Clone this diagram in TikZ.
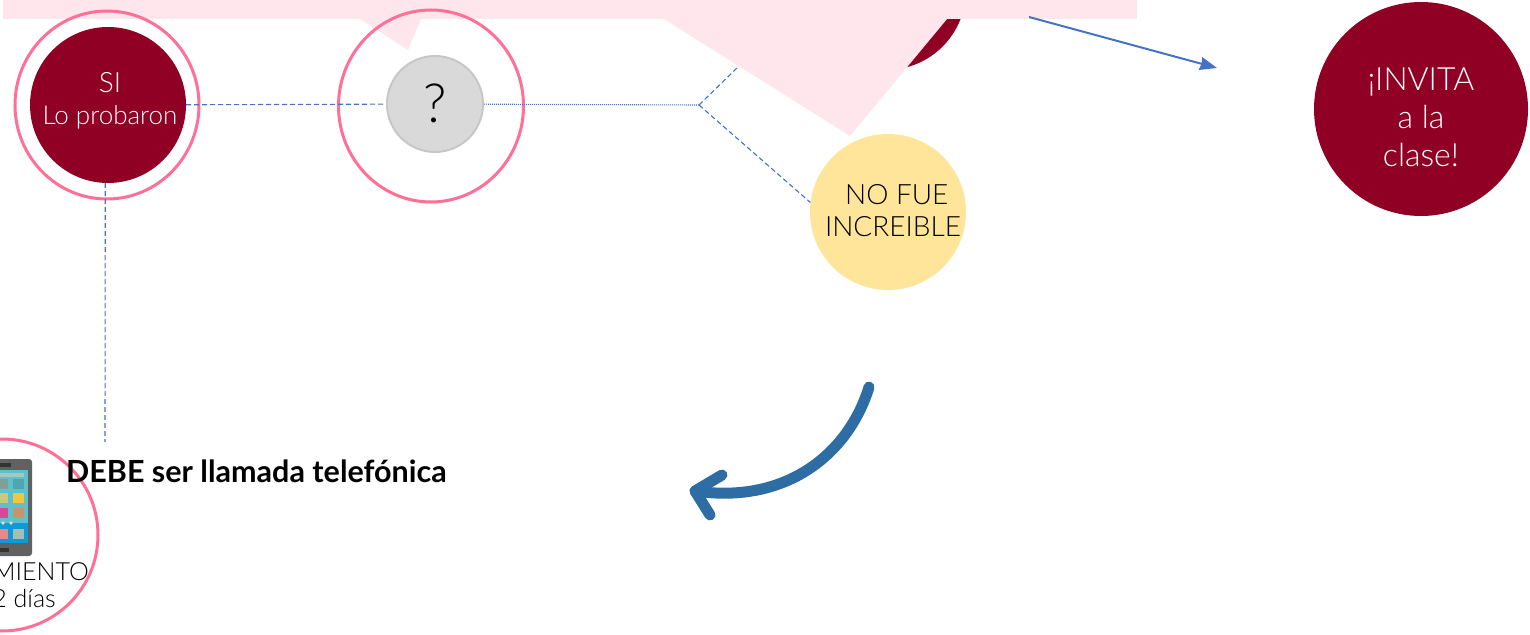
\documentclass[tikz,border=0pt]{standalone}
\usepackage{fontspec}
\usetikzlibrary{arrows.meta}
\setmainfont{Lato}
\newfontfamily\fina{Lato Light}
\definecolor{vino}{HTML}{900024}
\definecolor{rosa}{HTML}{FF6F96}
\definecolor{rosaclaro}{HTML}{FFE6EC}
\definecolor{crema}{HTML}{FFE599}
\definecolor{linea}{HTML}{4472C4}
\definecolor{flecha}{HTML}{2E6DA4}
\begin{document}
\begin{tikzpicture}[x=1pt, y=-1pt,
  every node/.style={inner sep=0pt, align=center},
  bola/.style={circle, minimum size=#1, text=white},
  anillo/.style={draw=rosa, line width=3pt},
  icono/.code={\definecolor{tonoicono}{HTML}{#1}\tikzset{fill=tonoicono}},
  trazos/.style={draw=linea, line width=1.1pt, dash pattern=on 5pt off 3pt},
  puntos/.style={draw=linea, line width=1.1pt, dash pattern=on 1pt off 1pt}]
\useasboundingbox (0,0) rectangle (1530,634);
\clip (0,0) rectangle (1530,634);
% fondo
\fill[vino] (886,-10) circle (80);
\fill[rosaclaro] (3,0) rectangle (1137,19);
\fill[rosaclaro] (360,19) -- (408,50) -- (421,19) -- cycle;
\fill[rosaclaro] (664,19) -- (850,136) -- (947,19) -- cycle;
% nodos
\draw[anillo] (107,105) ellipse (92 and 94);
\draw[anillo] (431,106) ellipse (92.5 and 96);
\node[bola=156pt, fill=vino] (si) at (108,105) {};
\node[text=white, font=\fina\fontsize{28}{32}\selectfont] at (110,83) {SI};
\node[text=white, font=\fina\fontsize{26}{30}\selectfont] at (110,117) {Lo probaron};
\node[bola=96pt, fill=black!15, draw=black!22, line width=2pt] (duda) at (435,104) {};
\node[font=\fina\fontsize{54}{58}\selectfont] at (435,103) {?};
\node[bola=156pt, fill=crema] (nofue) at (888,212) {};
\node[font=\fina\fontsize{28}{32}\selectfont] at (893,211) {\ NO FUE\\INCREIBLE};
\node[bola=214pt, fill=vino] (invita) at (1421,109) {};
\node[text=white, font=\fina\fontsize{32}{38}\selectfont] at (1421,117) {¡INVITA\\a la\\clase!};
% telefono
\draw[anillo] (2,535) circle (96);
\fill[black!62, rounded corners=3pt] (-20,459) rectangle (32,556);
\fill[black!80] (-5,463) rectangle (11,467);
\fill[black!80] (-5,548) rectangle (9,552);
\path[icono=5EC0CC] (-5,470) rectangle (28,523);
\path[icono=0E9BD5] (-5,523) rectangle (28,543);
\path[icono=A9C7C0] (-5,473) rectangle (24,477);
\path[icono=7F9F98] (-5,479) rectangle (8,489);
\path[icono=4FA6AF] (13,479) rectangle (24,489);
\path[icono=C8C97B] (-5,493) rectangle (8,503);
\path[icono=F4C63A] (13,493) rectangle (24,503);
\path[icono=D8489A] (-5,508) rectangle (8,518);
\path[icono=C59668] (13,508) rectangle (24,518);
\path[icono=E58A86] (-5,529) rectangle (8,539);
\path[icono=A3BFB5] (13,529) rectangle (24,539);
\fill[black!15] (3,523) circle (1.8) (11,523) circle (1.8);
\node[anchor=east, font=\fina\fontsize{25}{28}\selectfont] (seguir) at (89,572) {MIENTO};
\node[anchor=east, font=\fina\fontsize{25}{28}\selectfont] (dias) at (56,598) {2 días};
\node[anchor=west, font=\bfseries\fontsize{30.5}{34}\selectfont] (debe) at (66,471) {DEBE ser llamada telefónica};
% conectores
\coordinate (cruce) at (699,105);
\coordinate (arriba) at (738,67);
\coordinate (abajo) at (105,442);
\coordinate (flechaini) at (1029,17);
\coordinate (flechafin) at (1217,68);
\draw[trazos] (si) -- (duda);
\draw[puntos] (duda) -- (cruce);
\draw[trazos] (cruce) -- (arriba);
\draw[trazos] (cruce) -- (nofue.173);
\draw[trazos] (si.268) -- (abajo);
\draw[linea, line width=2pt, -{Stealth[length=17pt, width=13pt, inset=1pt]}] (flechaini) -- (flechafin);
% flecha curva
\coordinate (curvaini) at (869,387);
\coordinate (punta) at (695,491);
\draw[flecha, line width=11pt, line cap=round, line join=round] (curvaini) .. controls (850,450) and (790,505) .. (punta);
\draw[flecha, line width=11pt, line cap=round, line join=round] (722,475) -- (punta) -- (710,515);
\end{tikzpicture}
\end{document}
